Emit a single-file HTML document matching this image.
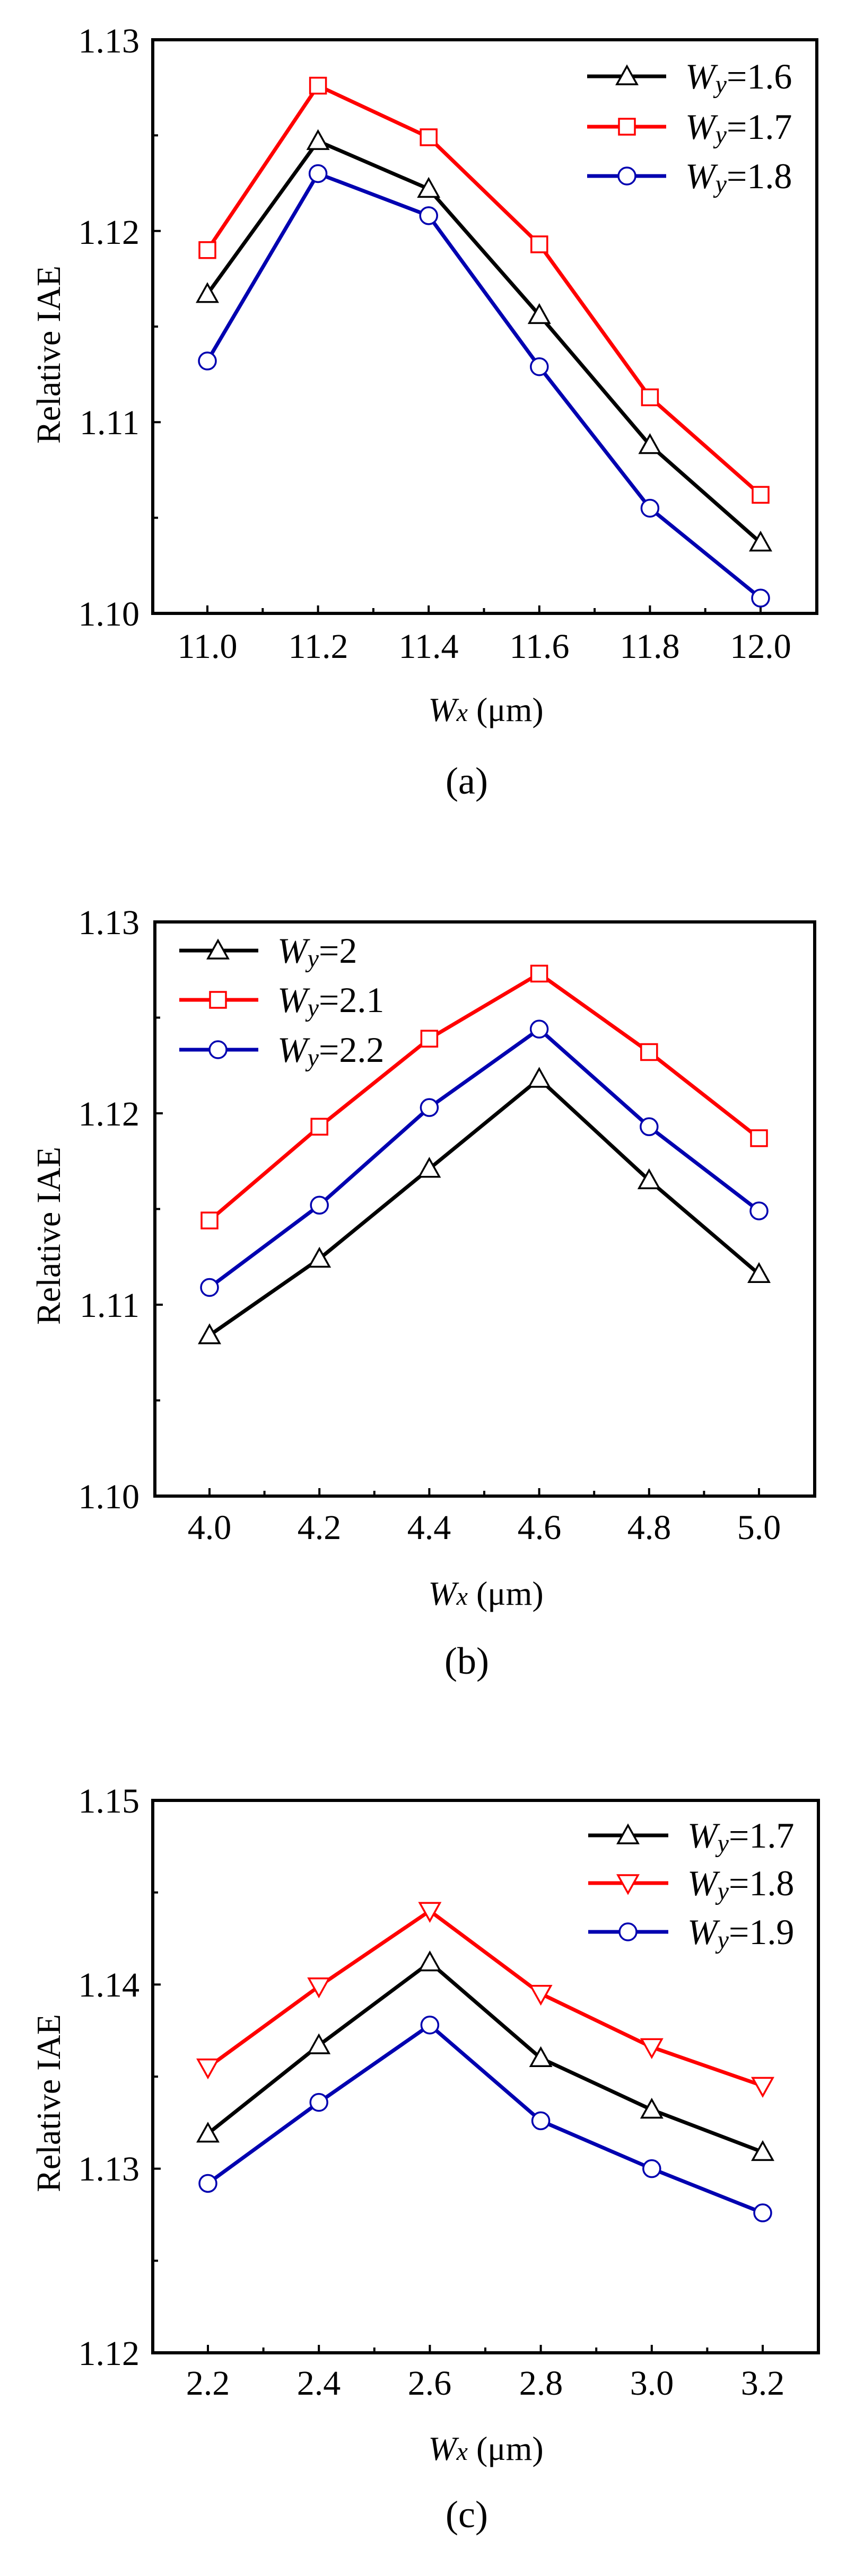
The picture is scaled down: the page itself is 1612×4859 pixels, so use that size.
<!DOCTYPE html>
<html><head><meta charset="utf-8"><style>
html,body{margin:0;padding:0;background:#fff;}
svg{display:block;}
text{font-family:"Liberation Serif","Times New Roman",serif;fill:#000;}
</style></head><body>
<svg id="s" width="1612" height="4859" viewBox="0 0 1612 4859" xmlns="http://www.w3.org/2000/svg">
<rect width="1612" height="4859" fill="#fff"/>
<g id="plots"></g>
<g font-size="66" text-anchor="end">
<text x="263" y="99">1.13</text><text x="263" y="460">1.12</text><text x="263" y="819">1.11</text><text x="263" y="1180">1.10</text>
<text x="263" y="1762">1.13</text><text x="263" y="2123">1.12</text><text x="263" y="2484">1.11</text><text x="263" y="2845">1.10</text>
<text x="263" y="3419">1.15</text><text x="263" y="3766">1.14</text><text x="263" y="4113">1.13</text><text x="263" y="4461">1.12</text>
</g>
<g font-size="66" text-anchor="middle">
<text x="391" y="1241">11.0</text><text x="600" y="1241">11.2</text><text x="808" y="1241">11.4</text><text x="1017" y="1241">11.6</text><text x="1225" y="1241">11.8</text><text x="1434" y="1241">12.0</text>
<text x="395" y="2903">4.0</text><text x="602" y="2903">4.2</text><text x="809" y="2903">4.4</text><text x="1017" y="2903">4.6</text><text x="1224" y="2903">4.8</text><text x="1431" y="2903">5.0</text>
<text x="392" y="4517">2.2</text><text x="601" y="4517">2.4</text><text x="810" y="4517">2.6</text><text x="1020" y="4517">2.8</text><text x="1229" y="4517">3.0</text><text x="1438" y="4517">3.2</text>
</g>
<g font-size="64" text-anchor="middle">
<text transform="translate(113,669) rotate(-90)">Relative IAE</text>
<text transform="translate(113,2331) rotate(-90)">Relative IAE</text>
<text transform="translate(113,3967) rotate(-90)">Relative IAE</text>
<text x="916" y="1360"><tspan font-style="italic">W</tspan><tspan font-style="italic" font-size="48">x</tspan> (μm)</text>
<text x="916" y="3027"><tspan font-style="italic">W</tspan><tspan font-style="italic" font-size="48">x</tspan> (μm)</text>
<text x="916" y="4640"><tspan font-style="italic">W</tspan><tspan font-style="italic" font-size="48">x</tspan> (μm)</text>
</g>
<g font-size="72" text-anchor="middle">
<text x="880" y="1497">(a)</text>
<text x="880" y="3157">(b)</text>
<text x="880" y="4767">(c)</text>
</g>
<g font-size="68">
<text x="1292" y="167"><tspan font-style="italic">W</tspan><tspan font-style="italic" font-size="48" dy="8">y</tspan><tspan dy="-8">=1.6</tspan></text>
<text x="1292" y="262"><tspan font-style="italic">W</tspan><tspan font-style="italic" font-size="48" dy="8">y</tspan><tspan dy="-8">=1.7</tspan></text>
<text x="1292" y="355"><tspan font-style="italic">W</tspan><tspan font-style="italic" font-size="48" dy="8">y</tspan><tspan dy="-8">=1.8</tspan></text>
<text x="523" y="1816"><tspan font-style="italic">W</tspan><tspan font-style="italic" font-size="48" dy="8">y</tspan><tspan dy="-8">=2</tspan></text>
<text x="523" y="1909"><tspan font-style="italic">W</tspan><tspan font-style="italic" font-size="48" dy="8">y</tspan><tspan dy="-8">=2.1</tspan></text>
<text x="523" y="2003"><tspan font-style="italic">W</tspan><tspan font-style="italic" font-size="48" dy="8">y</tspan><tspan dy="-8">=2.2</tspan></text>
<text x="1296" y="3485"><tspan font-style="italic">W</tspan><tspan font-style="italic" font-size="48" dy="8">y</tspan><tspan dy="-8">=1.7</tspan></text>
<text x="1296" y="3575"><tspan font-style="italic">W</tspan><tspan font-style="italic" font-size="48" dy="8">y</tspan><tspan dy="-8">=1.8</tspan></text>
<text x="1296" y="3667"><tspan font-style="italic">W</tspan><tspan font-style="italic" font-size="48" dy="8">y</tspan><tspan dy="-8">=1.9</tspan></text>
</g>
</svg>
<script>
(function(){
var NS="http://www.w3.org/2000/svg",g=document.getElementById("plots");
function el(t,a){var e=document.createElementNS(NS,t);for(var k in a)e.setAttribute(k,a[k]);g.appendChild(e);return e;}
function marker(type,x,y,c){
 if(type=="t"){el("polygon",{points:(x-19)+","+(y+15)+" "+(x+19)+","+(y+15)+" "+x+","+(y-19),fill:"#fff",stroke:c,"stroke-width":3.5});}
 else if(type=="v"){el("polygon",{points:(x-19)+","+(y-15)+" "+(x+19)+","+(y-15)+" "+x+","+(y+19),fill:"#fff",stroke:c,"stroke-width":3.5});}
 else if(type=="s"){el("rect",{x:x-15,y:y-15,width:30,height:30,fill:"#fff",stroke:c,"stroke-width":3.5});}
 else {el("circle",{cx:x,cy:y,r:16,fill:"#fff",stroke:c,"stroke-width":3.5});}
}
var P=[
 {L:288,R:1540,T:75,B:1157,x0:391,x1:1434,ymin:1.10,
  S:[["#000","t",[1.1167,1.1247,1.1222,1.1156,1.1088,1.1037]],["#f00","s",[1.1190,1.1276,1.1249,1.1193,1.1113,1.1062]],["#0000b0","o",[1.1132,1.1230,1.1208,1.1129,1.1055,1.1008]]],
  leg:{x1:1107,x2:1256,m:1182,ys:[144,239,332]}},
 {L:292,R:1536,T:1739,B:2822,x0:395,x1:1431,ymin:1.10,
  S:[["#000","t",[1.1084,1.1124,1.1171,1.1218,1.1165,1.1116]],["#f00","s",[1.1144,1.1193,1.1239,1.1273,1.1232,1.1187]],["#0000b0","o",[1.1109,1.1152,1.1203,1.1244,1.1193,1.1149]]],
  leg:{x1:338,x2:487,m:411,ys:[1793,1886,1980]}},
 {L:288,R:1543,T:3396,B:4438,x0:392,x1:1438,ymin:1.12,
  S:[["#000","t",[1.1319,1.1367,1.1412,1.1360,1.1332,1.1309]],["#f00","v",[1.1355,1.1399,1.1440,1.1395,1.1366,1.1345]],["#0000b0","o",[1.1292,1.1336,1.1378,1.1326,1.1300,1.1276]]],
  leg:{x1:1109,x2:1260,m:1184,ys:[3462,3552,3644]}}
];
P.forEach(function(p){
 var H=p.B-p.T,dx=(p.x1-p.x0)/5;
 for(var i=0;i<=10;i++){var x=p.x0+i*dx/2;el("line",{x1:x,x2:x,y1:p.B,y2:p.B-(i%2?10:15),stroke:"#000","stroke-width":4});}
 for(var j=1;j<6;j++){var y=p.B-j*H/6;el("line",{x1:p.L,x2:p.L+(j%2?10:15),y1:y,y2:y,stroke:"#000","stroke-width":4});}
 el("rect",{x:p.L,y:p.T,width:p.R-p.L,height:H,fill:"none",stroke:"#000","stroke-width":6});
 p.S.forEach(function(s,k){
  var pts=s[2].map(function(v,i){return [p.x0+i*dx,p.B-(v-p.ymin)/0.03*H];});
  el("polyline",{points:pts.map(function(a){return a.join(",")}).join(" "),fill:"none",stroke:s[0],"stroke-width":7,"stroke-linejoin":"round"});
  pts.forEach(function(a){marker(s[1],a[0],a[1],s[0]);});
  var ly=p.leg.ys[k];
  el("line",{x1:p.leg.x1,x2:p.leg.x2,y1:ly,y2:ly,stroke:s[0],"stroke-width":7});
  marker(s[1],p.leg.m,ly,s[0]);
 });
});
})();
</script>
</body></html>
